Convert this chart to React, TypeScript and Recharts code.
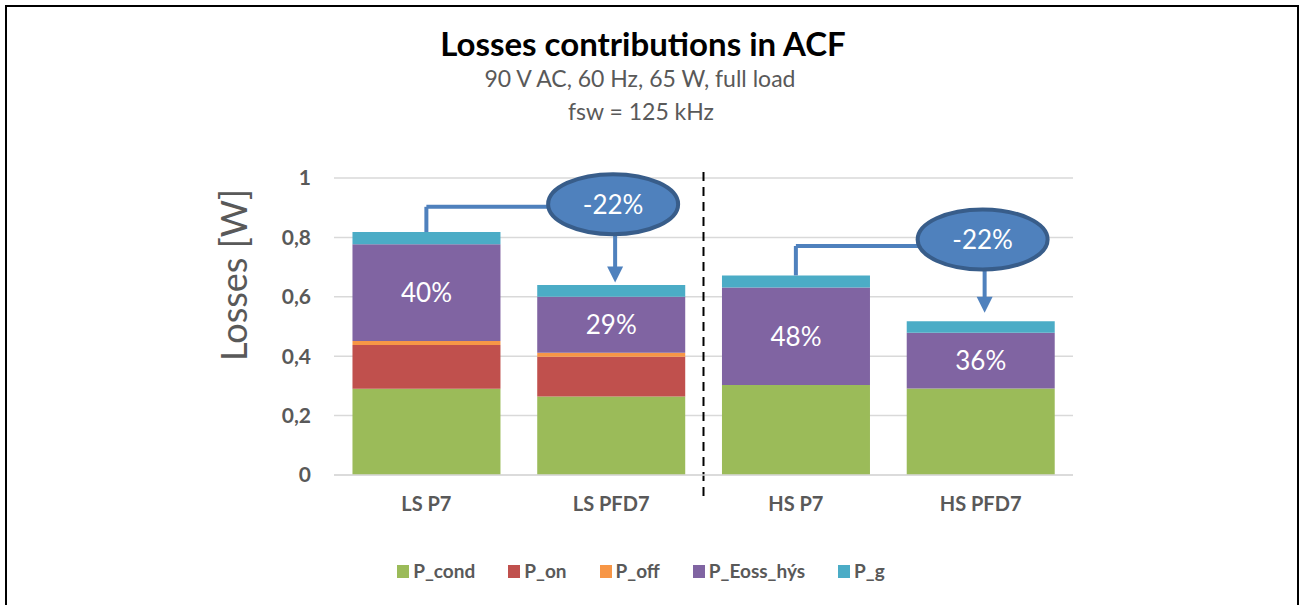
import {
  BarChart,
  Bar,
  XAxis,
  YAxis,
  CartesianGrid,
  ReferenceLine,
  ReferenceDot,
  LabelList,
} from "recharts";

const categories = ["LS P7", "LS PFD7", "HS P7", "HS PFD7"];
const pCond = [0.29, 0.264, 0.303, 0.291];
const pOn = [0.148, 0.134, 0, 0];
const pOff = [0.013, 0.014, 0, 0];
const pEoss = [0.326, 0.188, 0.328, 0.188];
const pG = [0.041, 0.04, 0.041, 0.039];
const eossShare = ["40%", "29%", "48%", "36%"];
const yTicks = [0, 0.2, 0.4, 0.6, 0.8, 1];

// callouts: connector from top of one bar to a bubble above the next one, arrow down onto it
const callouts = [
  { from: "LS P7", to: "LS PFD7", fromTop: 0.818, elbow: 0.903, bubble: 0.912, tip: 0.648, text: "-22%" },
  { from: "HS P7", to: "HS PFD7", fromTop: 0.672, elbow: 0.771, bubble: 0.793, tip: 0.546, text: "-22%" },
];

const series = [
  { key: "P_cond", color: "#9BBB59" },
  { key: "P_on", color: "#C0504D" },
  { key: "P_off", color: "#F79646" },
  { key: "P_Eoss_hýs", color: "#8064A2" },
  { key: "P_g", color: "#4BACC6" },
];

const data = categories.map((name, i) => ({
  name,
  P_cond: pCond[i],
  P_on: pOn[i],
  P_off: pOff[i],
  "P_Eoss_hýs": pEoss[i],
  P_g: pG[i],
  share: eossShare[i],
}));

const FONT = "Lato, 'Open Sans', sans-serif";
const GREY = "#595959";
const BLUE = "#4F81BD";

const Arrow = (p: any) => {
  const { x1, y1, x2, y2 } = p;
  return (
    <g>
      <line x1={x1 + 4} y1={y1} x2={x2 + 4} y2={y2 - 14} stroke={BLUE} strokeWidth={4} />
      <polygon points={`${x2 - 4},${y2 - 16} ${x2 + 12},${y2 - 16} ${x2 + 4},${y2}`} fill={BLUE} />
    </g>
  );
};

const makeBubble = (text: string) => (p: any) => (
  <g>
    <ellipse cx={p.cx + 2} cy={p.cy} rx={65} ry={30} fill={BLUE} stroke="#385D8A" strokeWidth={4} />
    <text
      x={p.cx + 2}
      y={p.cy}
      textAnchor="middle"
      dominantBaseline="central"
      fill="#fff"
      fontSize={26}
      fontFamily={FONT}
    >
      {text}
    </text>
  </g>
);

export default function App() {
  return (
    <div
      style={{
        position: "absolute",
        left: 0,
        top: 0,
        width: 1301,
        height: 605,
        background: "#fff",
        overflow: "hidden",
        fontFamily: FONT,
      }}
    >
      <div
        style={{
          position: "absolute",
          left: 5,
          top: 5,
          width: 1290,
          height: 640,
          borderLeft: "2px solid #000",
          borderTop: "2px solid #000",
          borderRight: "2px solid #000",
        }}
      />
      <div style={{ position: "absolute", left: 0, width: 1286, top: 23, textAlign: "center", fontSize: 33, fontWeight: 700, color: "#000", lineHeight: "40px" }}>
        Losses contributions in ACF
      </div>
      <div style={{ position: "absolute", left: 0, width: 1280, top: 63, textAlign: "center", fontSize: 23, color: GREY, lineHeight: "30px" }}>
        90 V AC, 60 Hz, 65 W, full load
      </div>
      <div style={{ position: "absolute", left: 0, width: 1282, top: 96, textAlign: "center", fontSize: 23, color: GREY, lineHeight: "30px" }}>
        fsw = 125 kHz
      </div>
      <div
        style={{
          position: "absolute",
          left: 233,
          top: 275,
          transform: "translate(-50%, -50%) rotate(-90deg)",
          whiteSpace: "nowrap",
          fontSize: 36,
          color: GREY,
        }}
      >
        Losses [W]
      </div>

      <div style={{ position: "absolute", left: 0, top: 0 }}>
        <BarChart
          width={1301}
          height={605}
          data={data}
          margin={{ top: 178, right: 228, bottom: 100, left: 0 }}
          barCategoryGap="10%"
        >
          <CartesianGrid vertical={false} stroke="#D9D9D9" strokeWidth={1.5} />
          <XAxis
            dataKey="name"
            height={30}
            axisLine={{ stroke: "#D9D9D9", strokeWidth: 1.5 }}
            tickLine={false}
            tickMargin={16}
            tick={{ fill: GREY, fontSize: 20, fontWeight: 700, fontFamily: FONT }}
          />
          <YAxis
            width={334}
            domain={[0, 1]}
            ticks={yTicks}
            axisLine={false}
            tickLine={false}
            tickMargin={17}
            tickFormatter={(v) => String(v).replace(".", ",")}
            tick={{ fill: GREY, fontSize: 21, fontWeight: 700, fontFamily: FONT }}
          />
          {series.map((s) => (
            <Bar key={s.key} dataKey={s.key} stackId="a" fill={s.color} isAnimationActive={false}>
              {s.key === "P_Eoss_hýs" && (
                <LabelList dataKey="share" position="center" fill="#fff" fontSize={26} fontFamily={FONT} />
              )}
            </Bar>
          ))}
          <ReferenceLine
            segment={[{ x: "HS P7", y: 1.02 }, { x: "HS P7", y: -0.09 }]}
            position="start"
            ifOverflow="visible"
            stroke="#000"
            strokeWidth={2}
            strokeDasharray="9 6"
          />
          {callouts.map((c, i) => (
            <ReferenceLine
              key={"v" + i}
              segment={[{ x: c.from, y: c.fromTop }, { x: c.from, y: c.elbow }]}
              stroke={BLUE}
              strokeWidth={4}
            />
          ))}
          {callouts.map((c, i) => (
            <ReferenceLine
              key={"h" + i}
              segment={[{ x: c.from, y: c.elbow }, { x: c.to, y: c.elbow }]}
              stroke={BLUE}
              strokeWidth={4}
            />
          ))}
          {callouts.map((c, i) => (
            <ReferenceLine
              key={"a" + i}
              segment={[{ x: c.to, y: c.bubble }, { x: c.to, y: c.tip }]}
              shape={Arrow}
            />
          ))}
          {callouts.map((c, i) => (
            <ReferenceDot key={"b" + i} x={c.to} y={c.bubble} r={30} shape={makeBubble(c.text)} />
          ))}
        </BarChart>
      </div>

      <div
        style={{
          position: "absolute",
          left: 0,
          width: 1282,
          top: 559,
          display: "flex",
          justifyContent: "center",
          gap: 33,
          fontSize: 19,
          fontWeight: 700,
          color: GREY,
          lineHeight: "24px",
        }}
      >
        {series.map((s) => (
          <div key={s.key} style={{ display: "flex", alignItems: "center", gap: 4 }}>
            <span style={{ display: "inline-block", width: 12, height: 13, background: s.color }} />
            <span>{s.key}</span>
          </div>
        ))}
      </div>
    </div>
  );
}
